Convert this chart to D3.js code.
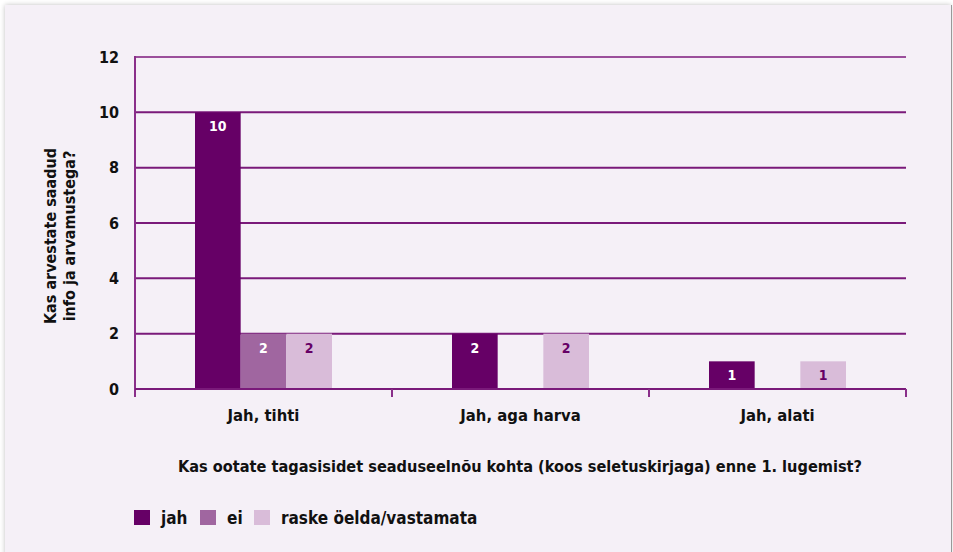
<!DOCTYPE html>
<html lang="et">
<head>
<meta charset="UTF-8">
<title>Kas arvestate saadud info ja arvamustega?</title>
<script src="https://d3js.org/d3.v7.min.js"></script>
<style>
  body { margin: 0; background: #fff; }
  text { font-family: "DejaVu Sans Condensed", "DejaVu Sans", sans-serif; font-weight: bold; }
</style>
</head>
<body>
<div id="chart"></div>
<script>
// data
const categories = ["Jah, tihti", "Jah, aga harva", "Jah, alati"];
const series = ["jah", "ei", "raske öelda/vastamata"];
const jah   = [10, 2, 1];
const ei    = [2, 0, 0];
const raske = [2, 2, 1];
const yTicks = [0, 2, 4, 6, 8, 10, 12];

const colors = ["#660066", "#a066a0", "#d9bcd9"];
const labelColors = ["#ffffff", "#ffffff", "#660066"];

const W = 953, H = 552;
const m = {left: 135, right: 47, top: 57, bottom: 163};

const svg = d3.select("#chart").append("svg")
  .attr("width", W).attr("height", H);

// panel with soft shadow
const defs = svg.append("defs");
const f = defs.append("filter").attr("id", "sh").attr("x", "-5%").attr("y", "-5%").attr("width", "110%").attr("height", "110%");
f.append("feGaussianBlur").attr("in", "SourceAlpha").attr("stdDeviation", 2.5);
f.append("feOffset").attr("dx", 0).attr("dy", 0).attr("result", "b");
f.append("feComponentTransfer").append("feFuncA").attr("type", "linear").attr("slope", 0.25);
const fm = f.append("feMerge");
fm.append("feMergeNode");
fm.append("feMergeNode").attr("in", "SourceGraphic");

svg.append("rect").attr("x", 5).attr("y", 5).attr("width", W - 7).attr("height", H)
  .attr("fill", "#f5f0f7").attr("filter", "url(#sh)");
svg.append("line").attr("x1", W - 1.5).attr("x2", W - 1.5).attr("y1", 5).attr("y2", H)
  .attr("stroke", "#999").attr("stroke-width", 1);

const x0 = d3.scaleBand().domain(categories).range([m.left, W - m.right]);
const x1 = d3.scaleBand().domain(series).range([60, x0.bandwidth() - 60]);
const y = d3.scaleLinear().domain([0, 12]).range([H - m.bottom, m.top]);

// grid
svg.append("g").selectAll("line").data(yTicks.filter(d => d > 0)).join("line")
  .attr("x1", m.left).attr("x2", W - m.right)
  .attr("y1", d => y(d)).attr("y2", d => y(d))
  .attr("stroke", d => d === 12 ? "#9b4f9b" : "#7a1a7a").attr("stroke-width", 2);

// y axis
const ya = svg.append("g").attr("transform", `translate(${m.left},0)`)
  .call(d3.axisLeft(y).tickValues(yTicks).tickSize(0).tickPadding(16));
ya.select(".domain").remove();
ya.selectAll("text").attr("font-size", 16).attr("fill", "#111")
  .style("font-family", "'DejaVu Sans Condensed', sans-serif").style("font-weight", "bold");
svg.append("line").attr("x1", m.left).attr("x2", m.left)
  .attr("y1", y(12) - 1).attr("y2", y(0) + 8)
  .attr("stroke", "#8a2f8a").attr("stroke-width", 2);

// bars
const rows = categories.map((c, i) => ({cat: c, vals: [jah[i], ei[i], raske[i]]}));
const g = svg.append("g").selectAll("g").data(rows).join("g")
  .attr("transform", d => `translate(${x0(d.cat)},0)`);
const cells = g.selectAll("g").data(d => d.vals.map((v, k) => ({v, k})).filter(o => o.v > 0)).join("g");
cells.append("rect")
  .attr("x", d => x1(series[d.k]))
  .attr("width", x1.bandwidth())
  .attr("y", d => y(d.v))
  .attr("height", d => y(0) - y(d.v))
  .attr("fill", d => colors[d.k]);
cells.append("text")
  .attr("x", d => x1(series[d.k]) + x1.bandwidth() / 2)
  .attr("y", d => y(d.v) + 19)
  .attr("text-anchor", "middle").attr("font-size", 14)
  .attr("fill", d => labelColors[d.k])
  .text(d => d.v);

// x axis
svg.append("line").attr("x1", m.left).attr("x2", W - m.right)
  .attr("y1", y(0)).attr("y2", y(0)).attr("stroke", "#7a1a7a").attr("stroke-width", 2);
const edges = categories.map(c => x0(c)).concat([W - m.right]);
svg.append("g").selectAll("line").data(edges.slice(1)).join("line")
  .attr("x1", d => d).attr("x2", d => d).attr("y1", y(0)).attr("y2", y(0) + 8)
  .attr("stroke", "#8a2f8a").attr("stroke-width", 2);
svg.append("g").selectAll("text").data(categories).join("text")
  .attr("x", d => x0(d) + x0.bandwidth() / 2).attr("y", y(0) + 32)
  .attr("text-anchor", "middle").attr("font-size", 16.5).attr("fill", "#111")
  .text(d => d);

// axis titles
svg.append("text").attr("x", 520).attr("y", 472)
  .attr("text-anchor", "middle").attr("font-size", 16.2).attr("fill", "#111")
  .text("Kas ootate tagasisidet seaduseelnõu kohta (koos seletuskirjaga) enne 1. lugemist?");
const yt = svg.append("text").attr("transform", "translate(58,236) rotate(-90)")
  .attr("text-anchor", "middle").attr("font-size", 16).attr("fill", "#111");
yt.append("tspan").attr("x", 0).attr("dy", -2).text("Kas arvestate saadud");
yt.append("tspan").attr("x", 0).attr("dy", 19).text("info ja arvamustega?");

// legend
const lx = [134, 200, 254];
const lg = svg.append("g").selectAll("g").data(series).join("g")
  .attr("transform", (d, i) => `translate(${lx[i]},510)`);
lg.append("rect").attr("width", 16).attr("height", 15).attr("fill", (d, i) => colors[i]);
lg.append("text").attr("x", 27).attr("y", 14).attr("font-size", 17).attr("fill", "#111").text(d => d);
</script>
</body>
</html>
